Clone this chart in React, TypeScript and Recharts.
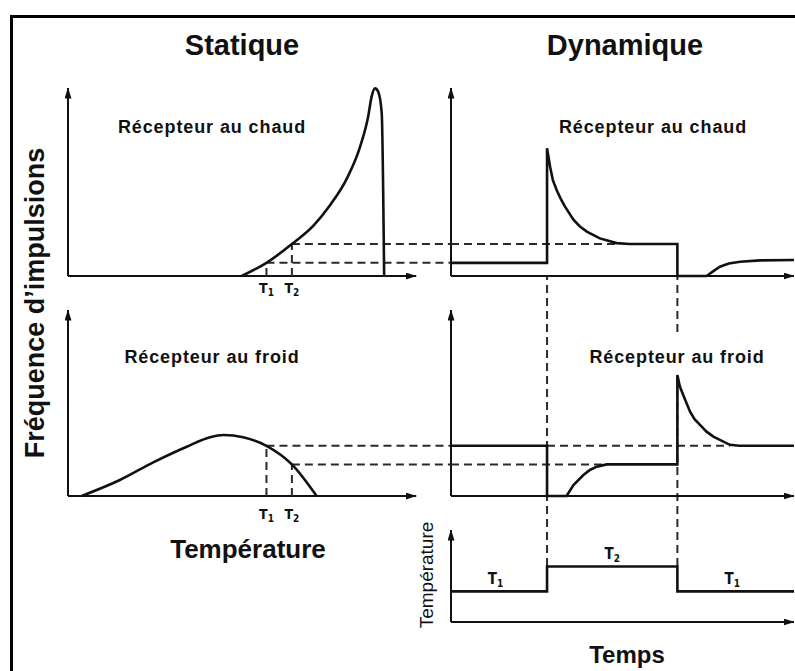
import React from 'react';
import { LineChart, Line, XAxis, YAxis, ReferenceLine, ReferenceDot } from 'recharts';

// temperatures (static x axis, and levels of the temperature step)
const T1 = 57;
const T2 = 64.3;
const tempTicks = [T1, T2];
const tickSubs = ['1', '2'];

// steady firing rates reached at T1 / T2
const warmAtT1 = 7;
const warmAtT2 = 17;
const coldAtT1 = 27;
const coldAtT2 = 17;

// static response: rate vs temperature
const warmStatic = [
  { T: 49.9, f: 0 },
  { T: 57.0, f: 7 },
  { T: 64.3, f: 17 },
  { T: 70.5, f: 26.8 },
  { T: 75.2, f: 37.5 },
  { T: 80.0, f: 51.5 },
  { T: 83.9, f: 68.8 },
  { T: 86.2, f: 84.7 },
  { T: 87.2, f: 95.4 },
  { T: 88.2, f: 99.8 },
  { T: 89.1, f: 98.0 },
  { T: 90.1, f: 86.7 },
  { T: 90.8, f: 0 },
];

const coldStatic = [
  { T: 3.9, f: 0 },
  { T: 14.9, f: 8.6 },
  { T: 24.5, f: 18.1 },
  { T: 34.1, f: 26.5 },
  { T: 40.8, f: 31.6 },
  { T: 44.6, f: 32.8 },
  { T: 50.3, f: 31.6 },
  { T: 57.0, f: 27 },
  { T: 64.3, f: 17 },
  { T: 71.4, f: 0 },
];

// dynamic response: rate vs time
const tOn = 28;
const tOff = 66;

const warmDynamic = [
  { t: 0, f: 7 },
  { t: 28, f: 7 },
  { t: 28, f: 68 },
  { t: 28.5, f: 62.5 },
  { t: 28.9, f: 58 },
  { t: 29.7, f: 51 },
  { t: 30.8, f: 45.7 },
  { t: 32, f: 41 },
  { t: 33.2, f: 37 },
  { t: 35.7, f: 30 },
  { t: 37.5, f: 26.5 },
  { t: 39.6, f: 23.6 },
  { t: 43.4, f: 20 },
  { t: 48.3, f: 17.5 },
  { t: 52, f: 17 },
  { t: 66, f: 17 },
  { t: 66, f: 0 },
  { t: 74.5, f: 0 },
  { t: 76.5, f: 2.6 },
  { t: 78.4, f: 4.9 },
  { t: 81, f: 6.6 },
  { t: 84.3, f: 7.6 },
  { t: 90.1, f: 8.3 },
  { t: 100, f: 8.5 },
];

const coldDynamic = [
  { t: 0, f: 27 },
  { t: 28, f: 27 },
  { t: 28, f: 0 },
  { t: 33.7, f: 0 },
  { t: 35.7, f: 5.9 },
  { t: 38.6, f: 11.3 },
  { t: 40.5, f: 14 },
  { t: 42.5, f: 15.8 },
  { t: 45.4, f: 17 },
  { t: 66, f: 17 },
  { t: 66, f: 65 },
  { t: 66.7, f: 59 },
  { t: 67.7, f: 54.3 },
  { t: 69.7, f: 45.3 },
  { t: 71, f: 41.3 },
  { t: 72.6, f: 38.2 },
  { t: 74.5, f: 34.6 },
  { t: 76.5, f: 31.9 },
  { t: 81.3, f: 27.5 },
  { t: 84, f: 27 },
  { t: 100, f: 27 },
];

const tempStep = [
  { t: 0, T: T1 },
  { t: 28, T: T1 },
  { t: 28, T: T2 },
  { t: 66, T: T2 },
  { t: 66, T: T1 },
  { t: 100, T: T1 },
];
const stepLabelTimes = [13, 47, 82];
const stepLabelLevels = [T1, T2, T1];
const stepLabelSubs = ['1', '2', '1'];

const INK = '#111';
const DASH = '#2a2a2a';
const SANS = '"Liberation Sans", Arial, sans-serif';
const NARROW = '"Liberation Sans Narrow", "DejaVu Sans Condensed", sans-serif';

const arrow = (p: any) => (
  <line x1={p.x1} y1={p.y1} x2={p.x2} y2={p.y2} stroke={INK} strokeWidth={2} markerEnd="url(#arrowHead)" />
);

const dashed = { stroke: DASH, strokeWidth: 2, strokeDasharray: '8 5' };

const tTick = (dy: number) => (p: any) => (
  <text x={p.x} y={p.y + dy} textAnchor="middle" fontFamily={NARROW} fontSize={14} fontWeight="bold" fill={INK}>
    T<tspan fontSize={10} dy={3}>{tickSubs[p.index]}</tspan>
  </text>
);

function StaticPanel({ data, top, height, atT1, atT2, tickDy }: any) {
  return (
    <div style={{ position: 'absolute', left: 48, top }}>
      <LineChart width={403} height={height} data={data} margin={{ top: 18, right: 0, bottom: 0, left: 20 }}>
        <XAxis
          type="number"
          dataKey="T"
          domain={[0, 110]}
          ticks={tempTicks}
          interval={0}
          minTickGap={0}
          axisLine={false}
          tickLine={false}
          tickSize={0}
          tickMargin={0}
          height={30}
          tick={tTick(tickDy)}
        />
        <YAxis type="number" domain={[0, 100]} hide />
        <ReferenceLine segment={[{ x: 0, y: 0 }, { x: 0, y: 100 }]} shape={arrow} />
        <ReferenceLine segment={[{ x: 0, y: 0 }, { x: 100, y: 0 }]} shape={arrow} />
        <ReferenceLine segment={[{ x: T1, y: 0 }, { x: T1, y: atT1 }]} {...dashed} />
        <ReferenceLine segment={[{ x: T2, y: 0 }, { x: T2, y: atT2 }]} {...dashed} />
        <ReferenceLine segment={[{ x: T1, y: atT1 }, { x: 110, y: atT1 }]} {...dashed} />
        <ReferenceLine segment={[{ x: T2, y: atT2 }, { x: 110, y: atT2 }]} {...dashed} />
        <Line type="monotone" dataKey="f" stroke={INK} strokeWidth={2.6} dot={false} isAnimationActive={false} />
      </LineChart>
    </div>
  );
}

export default function App() {
  return (
    <div style={{ position: 'absolute', left: 0, top: 0, width: 795, height: 671, overflow: 'hidden', background: '#fff' }}>
      <svg width={0} height={0} style={{ position: 'absolute' }}>
        <defs>
          <marker id="arrowHead" viewBox="0 0 11 7" refX={10.5} refY={3.5} markerWidth={11} markerHeight={7} markerUnits="userSpaceOnUse" orient="auto">
            <path d="M0,0 L11,3.5 L0,7 z" fill={INK} />
          </marker>
        </defs>
      </svg>

      <div style={{ position: 'absolute', left: 10, top: 15, width: 900, height: 900, border: '3px solid #000' }} />

      {/* dashed time markers running down through the dynamic panels */}
      <div style={{ position: 'absolute', left: 441, top: 276 }}>
        <LineChart width={353} height={290} data={tempStep} margin={{ top: 0, right: 0, bottom: 0, left: 10 }}>
          <XAxis type="number" dataKey="t" domain={[0, 100]} allowDataOverflow hide />
          <YAxis type="number" domain={[48, 75]} allowDataOverflow hide />
          <Line type="linear" dataKey="T" stroke="none" dot={false} isAnimationActive={false} />
          <ReferenceLine x={tOn} {...dashed} />
          <ReferenceLine x={tOff} {...dashed} />
        </LineChart>
      </div>

      <StaticPanel data={warmStatic} top={70} height={236} atT1={warmAtT1} atT2={warmAtT2} tickDy={17} />
      <StaticPanel data={coldStatic} top={292} height={234} atT1={coldAtT1} atT2={coldAtT2} tickDy={23} />

      <div style={{ position: 'absolute', left: 441, top: 70 }}>
        <LineChart width={353} height={216} data={warmDynamic} margin={{ top: 18, right: 0, bottom: 10, left: 10 }}>
          <XAxis type="number" dataKey="t" domain={[0, 100]} hide />
          <YAxis type="number" domain={[0, 100]} hide />
          <ReferenceLine segment={[{ x: 0, y: 0 }, { x: 0, y: 100 }]} shape={arrow} />
          <ReferenceLine segment={[{ x: 0, y: 0 }, { x: 100, y: 0 }]} shape={arrow} />
          <ReferenceLine segment={[{ x: 0, y: warmAtT2 }, { x: 48.3, y: warmAtT2 }]} {...dashed} />
          <Line type="linear" dataKey="f" stroke={INK} strokeWidth={2.6} dot={false} isAnimationActive={false} />
        </LineChart>
      </div>

      <div style={{ position: 'absolute', left: 441, top: 292 }}>
        <LineChart width={353} height={214} data={coldDynamic} margin={{ top: 18, right: 0, bottom: 10, left: 10 }}>
          <XAxis type="number" dataKey="t" domain={[0, 100]} hide />
          <YAxis type="number" domain={[0, 100]} hide />
          <ReferenceLine segment={[{ x: 0, y: 0 }, { x: 0, y: 100 }]} shape={arrow} />
          <ReferenceLine segment={[{ x: 0, y: 0 }, { x: 100, y: 0 }]} shape={arrow} />
          <ReferenceLine segment={[{ x: tOn, y: coldAtT1 }, { x: 81.3, y: coldAtT1 }]} {...dashed} />
          <ReferenceLine segment={[{ x: 0, y: coldAtT2 }, { x: 45.4, y: coldAtT2 }]} {...dashed} />
          <Line type="linear" dataKey="f" stroke={INK} strokeWidth={2.6} dot={false} isAnimationActive={false} />
        </LineChart>
      </div>

      <div style={{ position: 'absolute', left: 441, top: 512 }}>
        <LineChart width={353} height={120} data={tempStep} margin={{ top: 18, right: 0, bottom: 10, left: 10 }}>
          <XAxis type="number" dataKey="t" domain={[0, 100]} hide />
          <YAxis type="number" domain={[48, 75]} hide />
          <ReferenceLine segment={[{ x: 0, y: 48 }, { x: 0, y: 75 }]} shape={arrow} />
          <ReferenceLine segment={[{ x: 0, y: 48 }, { x: 100, y: 48 }]} shape={arrow} />
          <Line type="linear" dataKey="T" stroke={INK} strokeWidth={2.6} dot={false} isAnimationActive={false} />
          {stepLabelTimes.map((t, i) => (
            <ReferenceDot
              key={i}
              x={t}
              y={stepLabelLevels[i]}
              r={0}
              shape={(p: any) => (
                <text x={p.cx} y={p.cy - 7} textAnchor="middle" fontFamily={NARROW} fontSize={15} fontWeight="bold" fill={INK}>
                  T<tspan fontSize={10} dy={3}>{stepLabelSubs[i]}</tspan>
                </text>
              )}
            />
          ))}
        </LineChart>
      </div>

      <svg width={795} height={671} style={{ position: 'absolute', left: 0, top: 0, pointerEvents: 'none' }} fontFamily={SANS} fill={INK}>
        <text x={242} y={55} textAnchor="middle" fontSize={29} fontWeight="bold">Statique</text>
        <text x={625} y={55} textAnchor="middle" fontSize={29} fontWeight="bold">Dynamique</text>
        <text x={212} y={133} textAnchor="middle" fontSize={18} fontWeight="bold" letterSpacing={0.9}>Récepteur au chaud</text>
        <text x={653} y={133} textAnchor="middle" fontSize={18} fontWeight="bold" letterSpacing={0.9}>Récepteur au chaud</text>
        <text x={212} y={363} textAnchor="middle" fontSize={18} fontWeight="bold" letterSpacing={0.9}>Récepteur au froid</text>
        <rect x={588} y={336} width={180} height={36} fill="#fff" />
        <text x={677} y={363} textAnchor="middle" fontSize={18} fontWeight="bold" letterSpacing={0.9}>Récepteur au froid</text>
        <text transform="translate(44,303) rotate(-90)" textAnchor="middle" fontSize={27} fontWeight="bold">Fréquence d’impulsions</text>
        <text x={248} y={558} textAnchor="middle" fontSize={26} fontWeight="bold">Température</text>
        <text transform="translate(433,575) rotate(-90)" textAnchor="middle" fontSize={19}>Température</text>
        <text x={627} y={663} textAnchor="middle" fontSize={24} fontWeight="bold">Temps</text>
      </svg>
    </div>
  );
}
